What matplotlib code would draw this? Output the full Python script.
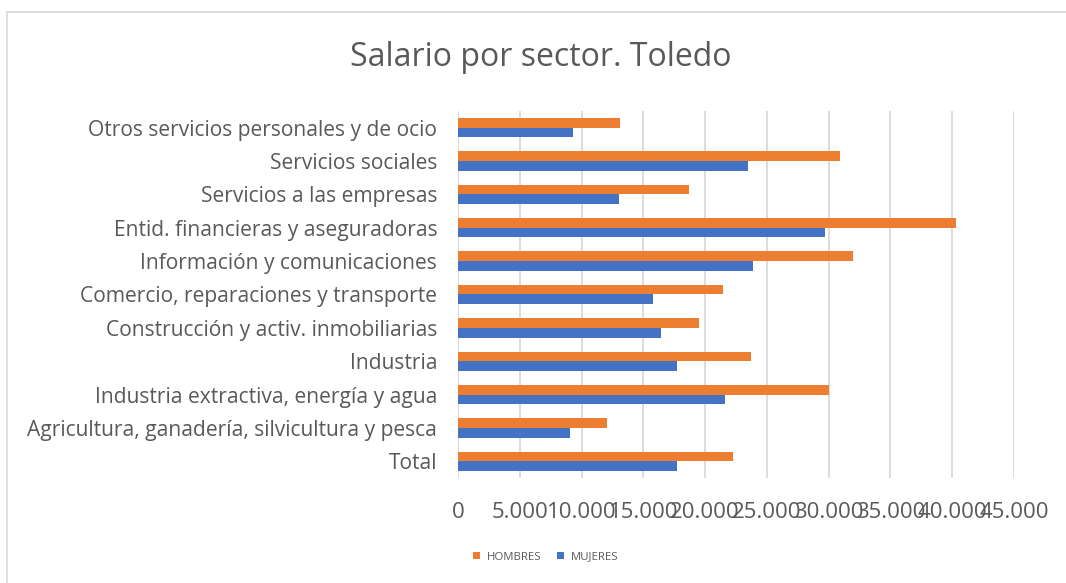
import matplotlib
matplotlib.use("Agg")
import matplotlib.pyplot as plt
import numpy as np
from matplotlib.patches import Rectangle
from matplotlib.ticker import FuncFormatter

# categories, bottom to top as drawn
sectores = [
    "Total",
    "Agricultura, ganadería, silvicultura y pesca",
    "Industria extractiva, energía y agua",
    "Industria",
    "Construcción y activ. inmobiliarias",
    "Comercio, reparaciones y transporte",
    "Información y comunicaciones",
    "Entid. financieras y aseguradoras",
    "Servicios a las empresas",
    "Servicios sociales",
    "Otros servicios personales y de ocio",
]
hombres = [22270, 12090, 30020, 23720, 19500, 21460, 31970, 40280, 18670, 30920, 13150]
mujeres = [17710, 9090, 21650, 17710, 16470, 15820, 23880, 29680, 13030, 23440, 9300]
x_ticks = list(range(0, 45001, 5000))

naranja = "#ED7D31"
azul = "#4472C4"
gris_texto = "#595959"
fuente = "Open Sans"

fig = plt.figure(figsize=(10.66, 5.83), dpi=100)
W, H = 1066, 583

# outer chart frame (only left and top visible)
fig.add_artist(Rectangle((7 / W, -0.1), 1.2, (583 - 12.5) / H + 0.1,
                         transform=fig.transFigure, fill=False,
                         edgecolor="#D9D9D9", linewidth=1.2))

ax = fig.add_axes([458 / W, 1 - 478 / H, (1014 - 458) / W, (478 - 111) / H])

y = np.arange(len(sectores))
h = 0.29
ax.barh(y + h / 2, hombres, height=h, color=naranja, label="HOMBRES", zorder=3)
ax.barh(y - h / 2, mujeres, height=h, color=azul, label="MUJERES", zorder=3)

ax.set_xlim(0, 45000)
ax.set_ylim(-0.5, len(sectores) - 0.5)
ax.set_xticks(x_ticks)
ax.xaxis.set_major_formatter(FuncFormatter(lambda v, p: f"{int(v):,}".replace(",", ".")))
ax.set_yticks(y)
ax.set_yticklabels(sectores)
ax.grid(axis="x", color="#D9D9D9", linewidth=1.3, zorder=0)
for s in ax.spines.values():
    s.set_visible(False)
ax.tick_params(axis="both", length=0)
ax.tick_params(axis="y", pad=15, labelsize=15.1, labelcolor=gris_texto)
ax.tick_params(axis="x", pad=17, labelsize=16, labelcolor=gris_texto)
for t in ax.get_yticklabels() + ax.get_xticklabels():
    t.set_fontfamily(fuente)

fig.text(541 / W, 1 - 57 / H, "Salario por sector. Toledo", ha="center", va="center",
         fontsize=23, color=gris_texto, family=fuente)

leg = fig.legend(loc="center", bbox_to_anchor=(546 / W, 1 - 557 / H), ncol=2,
                 frameon=False, handlelength=0.6, handleheight=0.6,
                 handletextpad=0.6, columnspacing=1.4,
                 prop={"family": fuente, "size": 8.2})
for t in leg.get_texts():
    t.set_color(gris_texto)

fig.savefig("out.png", dpi=100)
